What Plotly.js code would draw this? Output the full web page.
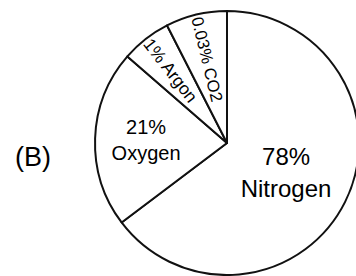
<!DOCTYPE html>
<html>
<head>
<meta charset="utf-8">
<script src="https://cdn.plot.ly/plotly-3.0.1.min.js"></script>
<style>
html,body{margin:0;padding:0;overflow:hidden;background:#fff;}
#chart{width:360px;height:276px;}
</style>
</head>
<body>
<div id="chart"></div>
<script>
// Slice sizes as drawn (degrees of arc)
var gases = ["Nitrogen", "Oxygen", "Argon", "CO2"];
var sliceDegrees = [233, 78, 22, 27];
var flatLabels = ["78%<br>Nitrogen", "21%<br>Oxygen", "", ""];
var radialLabels = ["", "", "1% Argon", "0.03% CO2"];
var flatSizes = [24, 20, 16, 16];
var radialSizes = [16, 16, 18, 18];
var panelLabel = "(B)";

var dom = {x: [0.2639, 0.9972], y: [0.0036, 0.960]};
var font = "Liberation Sans, Arial, sans-serif";

var base = {
  type: "pie",
  labels: gases,
  values: sliceDegrees,
  sort: false,
  direction: "clockwise",
  rotation: 0,
  domain: dom,
  hoverinfo: "none",
  showlegend: false,
  textinfo: "text",
  textposition: "inside"
};

var t1 = Object.assign({}, base, {
  text: flatLabels,
  insidetextorientation: "horizontal",
  textfont: {family: font, size: flatSizes, color: "#000"},
  marker: {colors: ["#fff", "#fff", "#fff", "#fff"], line: {color: "#111", width: 2}}
});
var t2 = Object.assign({}, base, {
  text: radialLabels,
  insidetextorientation: "radial",
  textfont: {family: font, size: radialSizes, color: "#000"},
  marker: {colors: ["rgba(0,0,0,0)", "rgba(0,0,0,0)", "rgba(0,0,0,0)", "rgba(0,0,0,0)"], line: {color: "rgba(0,0,0,0)", width: 0}}
});

var layout = {
  width: 360, height: 276,
  margin: {l: 0, r: 0, t: 0, b: 0},
  paper_bgcolor: "#fff",
  annotations: [{
    text: panelLabel, xref: "paper", yref: "paper",
    x: 0.092, y: 0.43, xanchor: "center", yanchor: "middle", showarrow: false,
    font: {family: font, size: 27, color: "#000"}
  }]
};

Plotly.newPlot("chart", [t1, t2], layout, {staticPlot: true});
</script>
</body>
</html>
